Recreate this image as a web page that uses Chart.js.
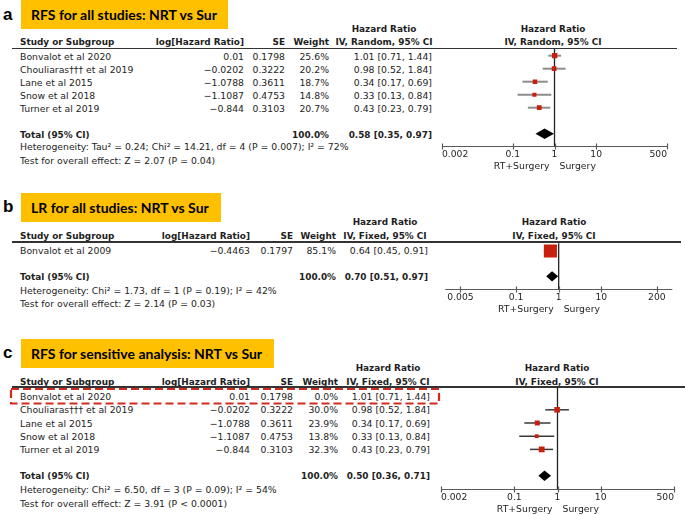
<!DOCTYPE html>
<html><head><meta charset="utf-8">
<script src="https://cdn.jsdelivr.net/npm/chart.js@4.4.1/dist/chart.umd.min.js"></script>
<style>
html,body{margin:0;padding:0;background:#fff;}
#page{position:relative;width:685px;height:515px;overflow:hidden;font-family:"DejaVu Sans",sans-serif;color:#1e1e1e;}
.t{position:absolute;white-space:nowrap;font-size:9.3px;line-height:12px;height:12px;}
.t.b{font-weight:bold;font-size:8.9px;}
.lbl{position:absolute;font-family:"Liberation Sans",Arial,sans-serif;font-weight:bold;font-size:17px;line-height:20px;color:#000;}
.box{position:absolute;left:21px;height:29px;background:#FFC000;}
.box span{position:absolute;left:10px;top:0;line-height:29px;font-family:Lato,sans-serif;font-weight:bold;font-size:14px;color:#000;white-space:nowrap;}
.hl{position:absolute;left:12px;height:1.5px;background:#333;}
canvas{position:absolute;}
svg{position:absolute;}
</style></head><body><div id="page"></div>
<script>
// ---------------- DATA ----------------
// Panel a: RFS for all studies (IV, Random)
const studiesA = ['Bonvalot et al 2020', 'Chouliaras\u2020\u2020\u2020 et al 2019', 'Lane et al 2015', 'Snow et al 2018', 'Turner et al 2019'];
const logHRA = [0.01, -0.0202, -1.0788, -1.1087, -0.844];
const seA = [0.1798, 0.3222, 0.3611, 0.4753, 0.3103];
const weightA = [25.6, 20.2, 18.7, 14.8, 20.7];
const hrA = [1.01, 0.98, 0.34, 0.33, 0.43];
const ciLowA = [0.71, 0.52, 0.17, 0.13, 0.23];
const ciHighA = [1.44, 1.84, 0.69, 0.84, 0.79];
const totalA = [0.58, 0.35, 0.97];
const ticksA = [0.002, 0.1, 1, 10, 500];
const axisRangeA = [0.002, 500];

// Panel b: LR for all studies (IV, Fixed)
const studiesB = ['Bonvalot et al 2009'];
const logHRB = [-0.4463];
const seB = [0.1797];
const weightB = [85.1];
const hrB = [0.64];
const ciLowB = [0.45];
const ciHighB = [0.91];
const totalB = [0.70, 0.51, 0.97];
const ticksB = [0.005, 0.1, 1, 10, 200];
const axisRangeB = [0.0022, 460];

// Panel c: RFS sensitive analysis (IV, Fixed)
const studiesC = ['Bonvalot et al 2020', 'Chouliaras\u2020\u2020\u2020 et al 2019', 'Lane et al 2015', 'Snow et al 2018', 'Turner et al 2019'];
const logHRC = [0.01, -0.0202, -1.0788, -1.1087, -0.844];
const seC = [0.1798, 0.3222, 0.3611, 0.4753, 0.3103];
const weightC = [0.0, 30.0, 23.9, 13.8, 32.3];
const hrC = [1.01, 0.98, 0.34, 0.33, 0.43];
const ciLowC = [0.71, 0.52, 0.17, 0.13, 0.23];
const ciHighC = [1.44, 1.84, 0.69, 0.84, 0.79];
const totalC = [0.50, 0.36, 0.71];
const ticksC = [0.002, 0.1, 1, 10, 500];
const axisRangeC = [0.002, 500];

const titles = ['RFS for all studies: NRT vs Sur', 'LR for all studies: NRT vs Sur', 'RFS for sensitive analysis: NRT vs Sur'];
const methods = ['IV, Random, 95% CI', 'IV, Fixed, 95% CI', 'IV, Fixed, 95% CI'];
const hetTexts = [
  'Heterogeneity: Tau\u00b2 = 0.24; Chi\u00b2 = 14.21, df = 4 (P = 0.007); I\u00b2 = 72%',
  'Heterogeneity: Chi\u00b2 = 1.73, df = 1 (P = 0.19); I\u00b2 = 42%',
  'Heterogeneity: Chi\u00b2 = 6.50, df = 3 (P = 0.09); I\u00b2 = 54%'
];
const testTexts = [
  'Test for overall effect: Z = 2.07 (P = 0.04)',
  'Test for overall effect: Z = 2.14 (P = 0.03)',
  'Test for overall effect: Z = 3.91 (P < 0.0001)'
];
const totalWeightText = '100.0%';
const favourLeft = 'RT+Surgery';
const favourRight = 'Surgery';

// ---------------- LAYOUT ----------------
const W = 685;
const page = document.getElementById('page');

const layouts = [
  {letter:'a', labelY:15, boxTop:0, boxW:207, hdr1Y:29, hdr2Y:42, lineY:48.5, lineRight:677,
   row0:55.7, step:13, totalIdx:6, hetY:147, testY:161, textDy:1,
   colStudy:20, colLog:244, colSE:285, colWt:329, colHR:432, hrHdrX:384, plotHdrX:553,
   axisLeft:442, axisRight:667, axisY:146, ciColor:'#8d8d8d', ciWidth:2, sqK:1.05, tickAlign:'inner'},
  {letter:'b', labelY:207, boxTop:193, boxW:200, hdr1Y:222, hdr2Y:235.5, lineY:242, lineRight:681,
   row0:250, step:13, totalIdx:2, hetY:290.5, testY:303.5, textDy:0.5,
   colStudy:20, colLog:250, colSE:293, colWt:336, colHR:428, hrHdrX:385, plotHdrX:554,
   axisLeft:436.5, axisRight:672.3, axisY:289, ciColor:'#3a3a3a', ciWidth:1.5, sqK:1.42, tickAlign:'center'},
  {letter:'c', labelY:353, boxTop:339, boxW:253, hdr1Y:368, hdr2Y:382, lineY:387, lineRight:685,
   row0:396.6, step:13.2, totalIdx:6, hetY:490, testY:503.5, textDy:0.5,
   colStudy:20, colLog:250, colSE:293, colWt:338, colHR:430, hrHdrX:388, plotHdrX:557,
   axisLeft:441, axisRight:674, axisY:488.5, ciColor:'#3a3a3a', ciWidth:1.5, sqK:1.02, tickAlign:'inner',
   highlight:{x:11, y:389, w:428, h:14.5}}
];

const panels = [
  {studies:studiesA, logHR:logHRA, se:seA, weight:weightA, hr:hrA, lo:ciLowA, hi:ciHighA, total:totalA, ticks:ticksA, range:axisRangeA},
  {studies:studiesB, logHR:logHRB, se:seB, weight:weightB, hr:hrB, lo:ciLowB, hi:ciHighB, total:totalB, ticks:ticksB, range:axisRangeB},
  {studies:studiesC, logHR:logHRC, se:seC, weight:weightC, hr:hrC, lo:ciLowC, hi:ciHighC, total:totalC, ticks:ticksC, range:axisRangeC}
];

function addText(x, y, s, align, bold) {
  const d = document.createElement('div');
  d.className = 't' + (bold ? ' b' : '');
  d.textContent = s;
  d.style.top = (y - 6) + 'px';
  if (align === 'right') d.style.right = (W - x) + 'px';
  else if (align === 'center') { d.style.left = x + 'px'; d.style.transform = 'translateX(-50%)'; }
  else d.style.left = x + 'px';
  page.appendChild(d);
}
const fmtSigned = v => String(v).replace('-', '\u2212');
const fmtHR = (h, l, u) => h.toFixed(2) + ' [' + l.toFixed(2) + ', ' + u.toFixed(2) + ']';

function buildPanel(k) {
  const P = panels[k], L = layouts[k];
  const lab = document.createElement('div');
  lab.className = 'lbl'; lab.textContent = L.letter;
  lab.style.left = '3px'; lab.style.top = (L.labelY - 10) + 'px';
  page.appendChild(lab);

  const box = document.createElement('div');
  box.className = 'box'; box.style.top = L.boxTop + 'px'; box.style.width = L.boxW + 'px';
  const sp = document.createElement('span'); sp.textContent = titles[k]; box.appendChild(sp);
  page.appendChild(box);

  addText(L.hrHdrX, L.hdr1Y, 'Hazard Ratio', 'center', true);
  addText(L.hrHdrX, L.hdr2Y, methods[k], 'center', true);
  addText(L.plotHdrX, L.hdr1Y, 'Hazard Ratio', 'center', true);
  addText(L.plotHdrX, L.hdr2Y, methods[k], 'center', true);
  addText(L.colStudy, L.hdr2Y, 'Study or Subgroup', 'left', true);
  addText(L.colLog, L.hdr2Y, 'log[Hazard Ratio]', 'right', true);
  addText(L.colSE, L.hdr2Y, 'SE', 'right', true);
  addText(L.colWt, L.hdr2Y, 'Weight', 'right', true);

  const hl = document.createElement('div');
  hl.className = 'hl'; hl.style.top = (L.lineY - 0.75) + 'px'; hl.style.width = (L.lineRight - 12) + 'px';
  page.appendChild(hl);

  P.studies.forEach((s, i) => {
    const y = L.row0 + i * L.step + L.textDy;
    addText(L.colStudy, y, s, 'left', false);
    addText(L.colLog, y, fmtSigned(P.logHR[i]), 'right', false);
    addText(L.colSE, y, String(P.se[i]), 'right', false);
    addText(L.colWt, y, P.weight[i].toFixed(1) + '%', 'right', false);
    addText(L.colHR, y, fmtHR(P.hr[i], P.lo[i], P.hi[i]), 'right', false);
  });
  const yT = L.row0 + L.totalIdx * L.step + L.textDy;
  addText(L.colStudy, yT, 'Total (95% CI)', 'left', true);
  addText(L.colWt, yT, totalWeightText, 'right', true);
  addText(L.colHR, yT, fmtHR(P.total[0], P.total[1], P.total[2]), 'right', true);
  addText(L.colStudy, L.hetY, hetTexts[k], 'left', false);
  addText(L.colStudy, L.testY, testTexts[k], 'left', false);

  if (L.highlight) {
    const h = L.highlight;
    const svg = document.createElementNS('http://www.w3.org/2000/svg', 'svg');
    svg.setAttribute('width', h.w + 4); svg.setAttribute('height', h.h + 4);
    svg.style.left = (h.x - 2) + 'px'; svg.style.top = (h.y - 2) + 'px';
    const r = document.createElementNS('http://www.w3.org/2000/svg', 'rect');
    r.setAttribute('x', 2); r.setAttribute('y', 2); r.setAttribute('width', h.w); r.setAttribute('height', h.h);
    r.setAttribute('fill', 'none'); r.setAttribute('stroke', '#d42a1e'); r.setAttribute('stroke-width', 2.2);
    r.setAttribute('stroke-dasharray', '8 4');
    svg.appendChild(r); page.appendChild(svg);
  }

  // ---- chart ----
  const cLeft = 436;
  const cTop = Math.round(L.lineY - 8);
  const axisH = 30;
  const cH = Math.round(L.axisY - cTop) + axisH;
  const cW = W - cLeft;
  const canvas = document.createElement('canvas');
  canvas.width = cW; canvas.height = cH;
  canvas.style.left = cLeft + 'px'; canvas.style.top = cTop + 'px';
  canvas.style.width = cW + 'px'; canvas.style.height = cH + 'px';
  page.appendChild(canvas);

  const yMin = (L.lineY - L.row0) / L.step;
  const yMax = (Math.round(L.axisY - cTop) + cTop - L.row0) / L.step;

  const pts = [], radii = [];
  P.hr.forEach((v, i) => {
    if (P.weight[i] > 0) { pts.push({x: v, y: i}); radii.push(L.sqK * Math.sqrt(P.weight[i]) / Math.SQRT2); }
  });

  const forest = {
    id: 'forest' + k,
    beforeDatasetsDraw(chart) {
      const {ctx, chartArea, scales} = chart;
      const x = scales.x, y = scales.y;
      ctx.save();
      ctx.strokeStyle = L.ciColor; ctx.lineWidth = L.ciWidth;
      P.hr.forEach((v, i) => {
        if (P.weight[i] > 0) {
          const yy = y.getPixelForValue(i);
          ctx.beginPath();
          ctx.moveTo(x.getPixelForValue(P.lo[i]), yy);
          ctx.lineTo(x.getPixelForValue(P.hi[i]), yy);
          ctx.stroke();
        }
      });
      const x1 = x.getPixelForValue(1);
      const b = Math.round(chartArea.bottom) + 0.5;
      ctx.strokeStyle = '#222'; ctx.lineWidth = 1.3;
      ctx.beginPath(); ctx.moveTo(x1, chartArea.top); ctx.lineTo(x1, b); ctx.stroke();
      ctx.strokeStyle = '#5a5a5a'; ctx.lineWidth = 1.2;
      ctx.beginPath(); ctx.moveTo(chartArea.left, b); ctx.lineTo(chartArea.right, b); ctx.stroke();
      ctx.beginPath();
      x.ticks.forEach(t => { const xx = Math.round(x.getPixelForValue(t.value)) + 0.5; ctx.moveTo(xx, b - 3); ctx.lineTo(xx, b + 3); });
      ctx.stroke();
      ctx.fillStyle = '#1e1e1e';
      ctx.font = '9.3px "DejaVu Sans"';
      ctx.textBaseline = 'middle';
      ctx.textAlign = 'right'; ctx.fillText(favourLeft, x1 - 5, b + 20);
      ctx.textAlign = 'left'; ctx.fillText(favourRight, x1 + 5, b + 20);
      ctx.restore();
    },
    afterDatasetsDraw(chart) {
      const {ctx, scales} = chart;
      const x = scales.x, y = scales.y;
      const t = P.total, yi = L.totalIdx, hh = 0.4;
      ctx.save();
      ctx.fillStyle = '#000';
      ctx.beginPath();
      ctx.moveTo(x.getPixelForValue(t[1]), y.getPixelForValue(yi));
      ctx.lineTo(x.getPixelForValue(t[0]), y.getPixelForValue(yi - hh));
      ctx.lineTo(x.getPixelForValue(t[2]), y.getPixelForValue(yi));
      ctx.lineTo(x.getPixelForValue(t[0]), y.getPixelForValue(yi + hh));
      ctx.closePath(); ctx.fill();
      ctx.restore();
    }
  };

  new Chart(canvas, {
    type: 'scatter',
    data: { datasets: [{ data: pts, pointStyle: 'rect', pointRadius: radii, pointHoverRadius: radii,
      backgroundColor: '#c8200f', borderWidth: 0 }] },
    options: {
      responsive: false, animation: false, devicePixelRatio: 1, events: [],
      layout: { padding: { left: L.axisLeft - cLeft, right: W - L.axisRight, top: L.lineY - cTop, bottom: 0 } },
      plugins: { legend: { display: false }, tooltip: { enabled: false } },
      scales: {
        x: {
          type: 'logarithmic', min: P.range[0], max: P.range[1],
          afterBuildTicks: s => { s.ticks = P.ticks.map(v => ({ value: v })); },
          afterFit: s => { s.height = axisH; },
          grid: { display: false, drawTicks: false, tickLength: 0 }, border: { display: false },
          ticks: { align: L.tickAlign, padding: 3, color: '#1e1e1e', autoSkip: false, maxRotation: 0,
            font: { family: 'DejaVu Sans', size: 9.2 }, callback: v => String(v) }
        },
        y: { type: 'linear', display: false, reverse: true, min: yMin, max: yMax }
      }
    },
    plugins: [forest]
  });
}
[0, 1, 2].forEach(buildPanel);
</script></body></html>
